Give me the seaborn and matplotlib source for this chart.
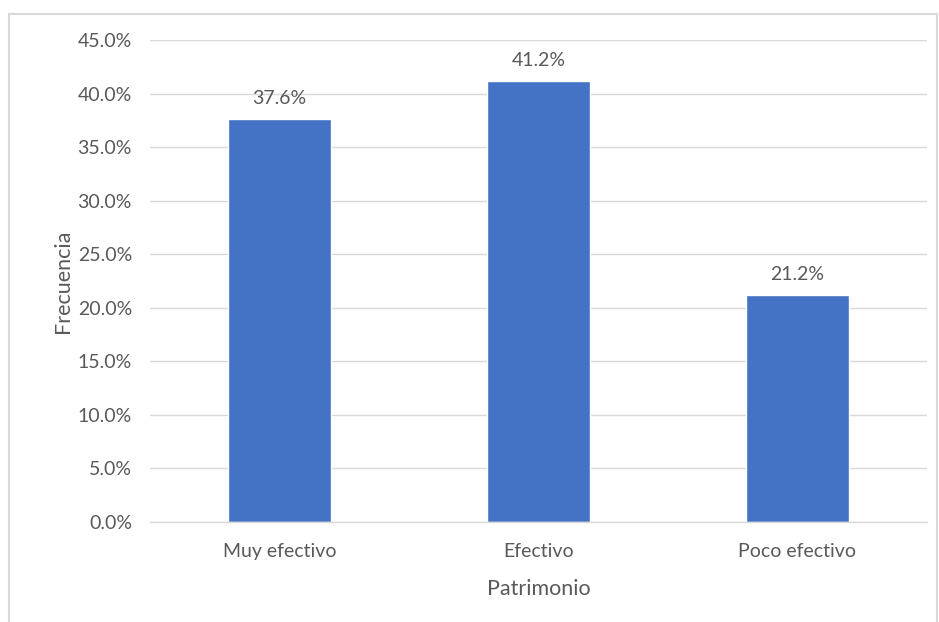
import matplotlib
matplotlib.use("Agg")
import matplotlib.pyplot as plt
import matplotlib.patches as mpatches
from matplotlib.ticker import FuncFormatter, MultipleLocator
import pandas as pd
import seaborn as sns

# data
categorias = ["Muy efectivo", "Efectivo", "Poco efectivo"]
frecuencia = [0.376, 0.412, 0.212]

df = pd.DataFrame({"Patrimonio": categorias, "Frecuencia": frecuencia})

sns.set_theme(style="white")
plt.rcParams["font.family"] = ["Lato", "DejaVu Sans"]
gris = "#595959"

fig = plt.figure(figsize=(9.39, 6.22), dpi=100)
# outer chart border like excel
fig.patches.append(mpatches.Rectangle((9 / 939, -0.01), 928 / 939, 1 - 14 / 622 + 0.01,
                                      transform=fig.transFigure, fill=False,
                                      edgecolor="#d9d9d9", linewidth=1.5))

ax = fig.add_axes([150 / 939, 1 - 522 / 622, 777 / 939, 482 / 622])
sns.barplot(data=df, x="Patrimonio", y="Frecuencia", color="#4472C4",
            width=0.4, saturation=1, ax=ax)

ax.set_ylim(0, 0.45)
ax.yaxis.set_major_locator(MultipleLocator(0.05))
ax.yaxis.set_major_formatter(FuncFormatter(lambda v, p: f"{v*100:.1f}%"))
ax.grid(axis="y", color="#d9d9d9", linewidth=1)
ax.set_axisbelow(True)
for s in ["top", "right", "left"]:
    ax.spines[s].set_visible(False)
ax.spines["bottom"].set_color("#d9d9d9")
ax.spines["bottom"].set_linewidth(1)
ax.tick_params(axis="both", length=0, colors=gris, labelsize=14)
ax.tick_params(axis="y", pad=13)
ax.tick_params(axis="x", pad=15)

for i, v in enumerate(frecuencia):
    ax.text(i, v + 0.011, f"{v*100:.1f}%", ha="center", va="bottom",
            color=gris, fontsize=14)

ax.set_xlabel("Patrimonio", color=gris, fontsize=15.5, labelpad=14)
ax.set_ylabel("Frecuencia", color=gris, fontsize=15.5, labelpad=3)

fig.savefig("out.png", dpi=100)
